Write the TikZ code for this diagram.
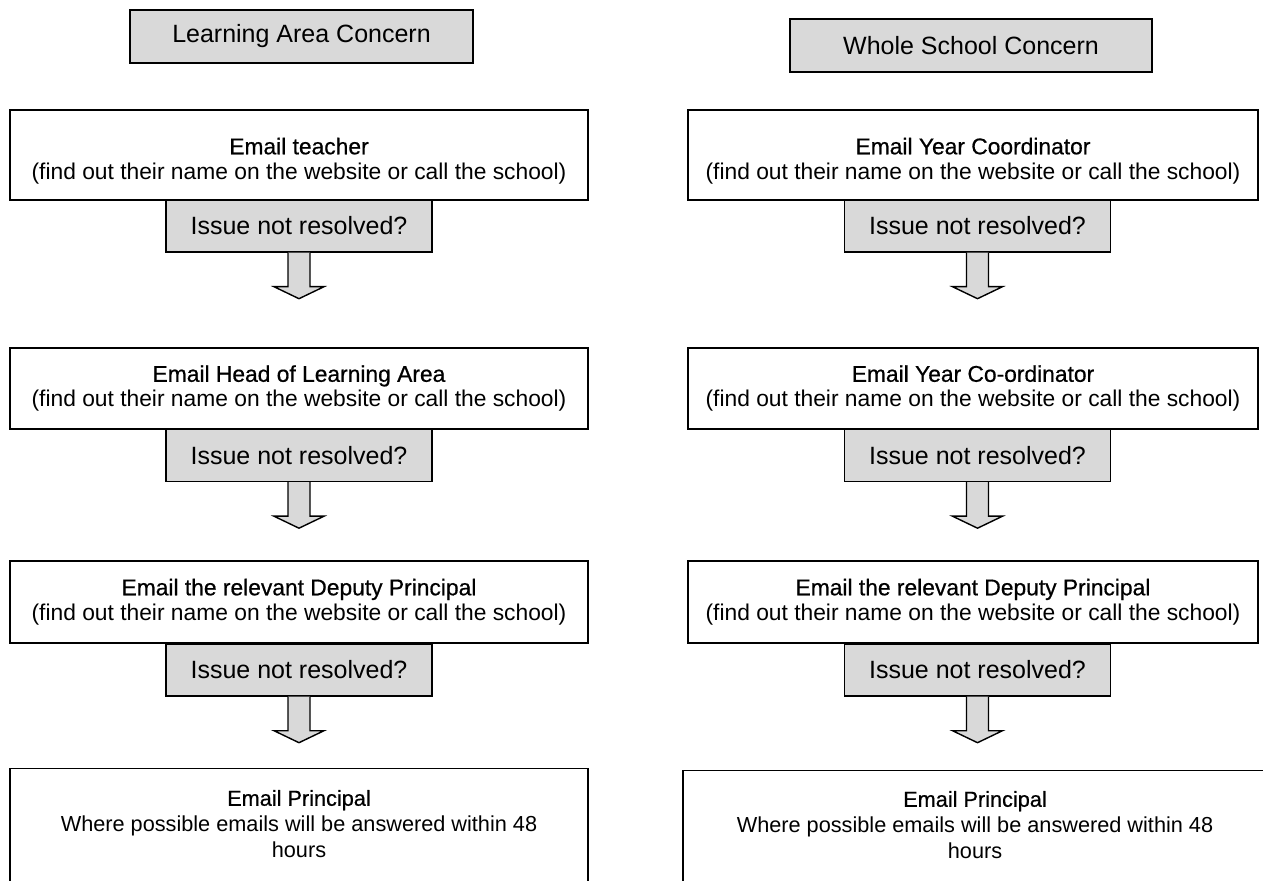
\documentclass[tikz,border=0pt]{standalone}
\usepackage{fontspec}
\setmainfont{Liberation Sans}
\newfontfamily\medfont[FakeBold=0.6]{Liberation Sans}
\usetikzlibrary{calc}
\definecolor{boxgray}{HTML}{D9D9D9}
\newcommand\blockarr[1]{%
  \draw[barrow] ($(#1.south)+(-11,0)$) -- ($(#1.south)+(-11,34)$) -- ($(#1.south)+(-25,34)$)
    -- ($(#1.south)+(0,46)$) -- ($(#1.south)+(25,34)$) -- ($(#1.south)+(11,34)$) -- ($(#1.south)+(11,0)$);}
\tikzset{
  base/.style={draw=black, line width=0.7pt, inner sep=0pt, align=center},
  headbox/.style={base, fill=boxgray, minimum height=26.5pt, font=\fontsize{12.5}{14}\selectfont},
  mainbox/.style={base, fill=white, font=\fontsize{11.4}{12.6}\selectfont},
  maintext/.style={align=center, inner sep=0pt, font=\fontsize{11.4}{12.6}\selectfont},
  issuebox/.style={base, fill=boxgray, minimum width=133pt, minimum height=26pt, font=\fontsize{12.5}{14}\selectfont},
  endbox/.style={base, fill=white, minimum height=80pt, anchor=north},
  endtext/.style={align=center, inner sep=0pt, font=\fontsize{10.85}{13}\selectfont},
  barrow/.style={draw=black, line width=0.7pt, fill=boxgray, line join=miter},
}
\newcommand\ttl[1]{{\medfont #1}}
\begin{document}
\begin{tikzpicture}[x=0.5pt,y=-0.5pt]
\clip (0,0) rectangle (1263,881);
\fill[white] (0,0) rectangle (1263,881);

% headers
\node[headbox, minimum width=171.5pt] (hl) at (301.5,36.5) {Learning Area Concern};
\node[headbox, minimum width=181pt] (hr) at (971,45.5) {Whole School Concern};

% left column
\node[base, fill=white, minimum width=289pt, minimum height=45pt] (l1) at (299,155) {};
\node[maintext] (l1t) at (299,161)
  {\ttl{Email teacher}\\(find out their name on the website or call the school)};
\node[issuebox] (li1) at (299,226) {Issue not resolved?};
\node[mainbox, minimum width=289pt, minimum height=40.5pt] (l2) at (299,388.5)
  {\ttl{Email Head of Learning Area}\\(find out their name on the website or call the school)};
\node[issuebox] (li2) at (299,455.5) {Issue not resolved?};
\node[mainbox, minimum width=289pt, minimum height=41pt] (l3) at (299,602)
  {\ttl{Email the relevant Deputy Principal}\\(find out their name on the website or call the school)};
\node[issuebox] (li3) at (299,670) {Issue not resolved?};
\node[endbox, minimum width=289pt] (l4) at (299,768) {};
\node[endtext] (l4t) at (299,824)
  {\ttl{Email Principal}\\Where possible emails will be answered within 48\\hours};

% right column
\node[base, fill=white, minimum width=285pt, minimum height=45pt] (r1) at (973,155) {};
\node[maintext] (r1t) at (973,161)
  {\ttl{Email Year Coordinator}\\(find out their name on the website or call the school)};
\node[issuebox] (ri1) at (977.5,226) {Issue not resolved?};
\node[mainbox, minimum width=285pt, minimum height=40.5pt] (r2) at (973,388.5)
  {\ttl{Email Year Co-ordinator}\\(find out their name on the website or call the school)};
\node[issuebox] (ri2) at (977.5,455.5) {Issue not resolved?};
\node[mainbox, minimum width=285pt, minimum height=41pt] (r3) at (973,602)
  {\ttl{Email the relevant Deputy Principal}\\(find out their name on the website or call the school)};
\node[issuebox] (ri3) at (977.5,670) {Issue not resolved?};
\node[endbox, minimum width=291pt] (r4) at (974,770) {};
\node[endtext] (r4t) at (975,825)
  {\ttl{Email Principal}\\Where possible emails will be answered within 48\\hours};

% block arrows
\blockarr{li1}
\blockarr{li2}
\blockarr{li3}
\blockarr{ri1}
\blockarr{ri2}
\blockarr{ri3}
\end{tikzpicture}
\end{document}
